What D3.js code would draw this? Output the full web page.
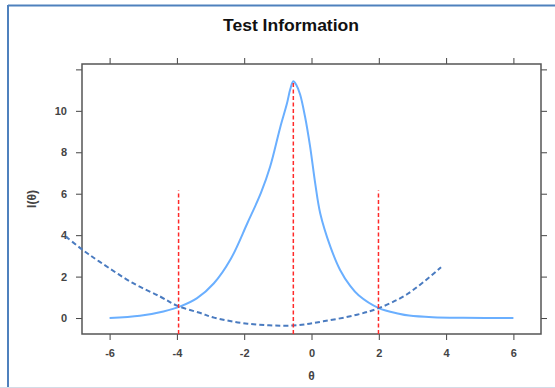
<!DOCTYPE html>
<html>
<head>
<meta charset="utf-8">
<script src="https://cdn.jsdelivr.net/npm/d3@7"></script>
<style>
  body { margin: 0; background: #fff; }
  svg { display: block; font-family: "Liberation Sans", Arial, sans-serif; }
  .tick text { font-size: 11px; font-weight: bold; fill: #444; }
  .tick line { stroke: #444; }
</style>
</head>
<body>
<div id="chart"></div>
<script>
// test information curve (solid)
const infoTheta = [-6, -5.1, -4.4, -3.9, -3.4, -2.9, -2.4, -1.9, -1.5, -1.23, -0.93, -0.73, -0.63, -0.54, -0.45, -0.34, -0.19, -0.04, 0.11, 0.26, 0.56, 0.85, 1.15, 1.4, 2, 2.6, 2.9, 3.6, 4.5, 6];
const infoValue = [0.0, 0.11, 0.32, 0.56, 0.96, 1.68, 2.85, 4.6, 6.05, 7.3, 9.2, 10.35, 11.05, 11.43, 11.25, 10.8, 9.7, 8.26, 6.5, 5.05, 3.45, 2.32, 1.55, 1.1, 0.48, 0.21, 0.12, 0.04, 0.01, 0.0];

// standard error curve (dashed)
const seTheta = [-7.3, -6.8, -6.3, -5.3, -4.5, -4, -3.3, -2.9, -1.9, -0.55, 0.35, 1.35, 2, 2.85, 3.85];
const seValue = [3.93, 3.29, 2.72, 1.68, 1.04, 0.6, 0.24, 0.02, -0.27, -0.36, -0.16, 0.16, 0.48, 1.16, 2.45];

// red reference lines
const markTheta = [-3.95, -0.54, 1.99];
const markTop = [6.15, 11.43, 6.15];

const xTicks = [-6, -4, -2, 0, 2, 4, 6];
const yTicks = [0, 2, 4, 6, 8, 10];
const yTicksAll = [0, 2, 4, 6, 8, 10, 12];

const W = 555, H = 388;
const panel = { left: 82, right: 541, top: 64, bottom: 334 };

const svg = d3.select('#chart').append('svg')
  .attr('width', W).attr('height', H);

// outer frame
svg.append('line').attr('x1', 8).attr('x2', W).attr('y1', 5.5).attr('y2', 5.5)
  .attr('stroke', '#4f81bd').attr('stroke-width', 2);
svg.append('line').attr('x1', 8).attr('x2', 8).attr('y1', 5).attr('y2', H)
  .attr('stroke', '#4f81bd').attr('stroke-width', 2);
svg.append('line').attr('x1', 0).attr('x2', W).attr('y1', 387.5).attr('y2', 387.5)
  .attr('stroke', '#d3dbe6').attr('stroke-width', 1);

const x = d3.scaleLinear().domain([-6.82, 6.82]).range([panel.left, panel.right]);
const y = d3.scaleLinear().domain([-0.77, 12.26]).range([panel.bottom, panel.top]);

// axes
const $bottom = svg.append('g').attr('transform', `translate(0,${panel.bottom})`)
  .call(d3.axisBottom(x).tickValues(xTicks).tickSize(6).tickPadding(9).tickFormat(d3.format('d')));
const $top = svg.append('g').attr('transform', `translate(0,${panel.top})`)
  .call(d3.axisTop(x).tickValues(xTicks).tickSize(6).tickFormat(''));
const $left = svg.append('g').attr('transform', `translate(${panel.left},0)`)
  .call(d3.axisLeft(y).tickValues(yTicksAll).tickSize(6).tickPadding(9)
    .tickFormat(d => yTicks.includes(d) ? d : ''));
const $right = svg.append('g').attr('transform', `translate(${panel.right},0)`)
  .call(d3.axisRight(y).tickValues(yTicksAll).tickSize(6).tickFormat(''));
[$bottom, $top, $left, $right].forEach(g => g.select('.domain').remove());
svg.selectAll('.tick text').text(function () { return d3.select(this).text().replace('−', '-'); });

// panel box
svg.append('rect')
  .attr('x', panel.left).attr('y', panel.top)
  .attr('width', panel.right - panel.left).attr('height', panel.bottom - panel.top)
  .attr('fill', 'none').attr('stroke', '#555').attr('stroke-width', 1.5);

// curves
const line = d3.line().x(d => x(d[0])).y(d => y(d[1])).curve(d3.curveCatmullRom.alpha(0.5));

svg.append('path')
  .datum(d3.zip(infoTheta, infoValue))
  .attr('d', line)
  .attr('fill', 'none').attr('stroke', '#6aafff').attr('stroke-width', 2);

svg.append('path')
  .datum(d3.zip(seTheta, seValue))
  .attr('d', line)
  .attr('fill', 'none').attr('stroke', '#4a7bc0').attr('stroke-width', 2)
  .attr('stroke-dasharray', '5,3');

svg.append('g').selectAll('line')
  .data(d3.zip(markTheta, markTop))
  .join('line')
  .attr('x1', d => x(d[0])).attr('x2', d => x(d[0]))
  .attr('y1', y.range()[0]).attr('y2', d => y(d[1]))
  .attr('stroke', '#ff2a2a').attr('stroke-width', 1.5)
  .attr('stroke-dasharray', '4,2.5');

// titles
svg.append('text').attr('x', 291).attr('y', 31)
  .attr('text-anchor', 'middle').attr('font-size', 16).attr('font-weight', 'bold')
  .attr('textLength', 136).attr('lengthAdjust', 'spacingAndGlyphs')
  .attr('fill', '#111').text('Test Information');
svg.append('text').attr('x', (panel.left + panel.right) / 2).attr('y', 380)
  .attr('text-anchor', 'middle').attr('font-size', 12).attr('font-weight', 'bold')
  .attr('fill', '#444').text('θ');
svg.append('text')
  .attr('transform', `translate(36,${(panel.top + panel.bottom) / 2}) rotate(-90)`)
  .attr('text-anchor', 'middle').attr('font-size', 12).attr('font-weight', 'bold')
  .attr('fill', '#444').text('I(θ)');
</script>
</body>
</html>
